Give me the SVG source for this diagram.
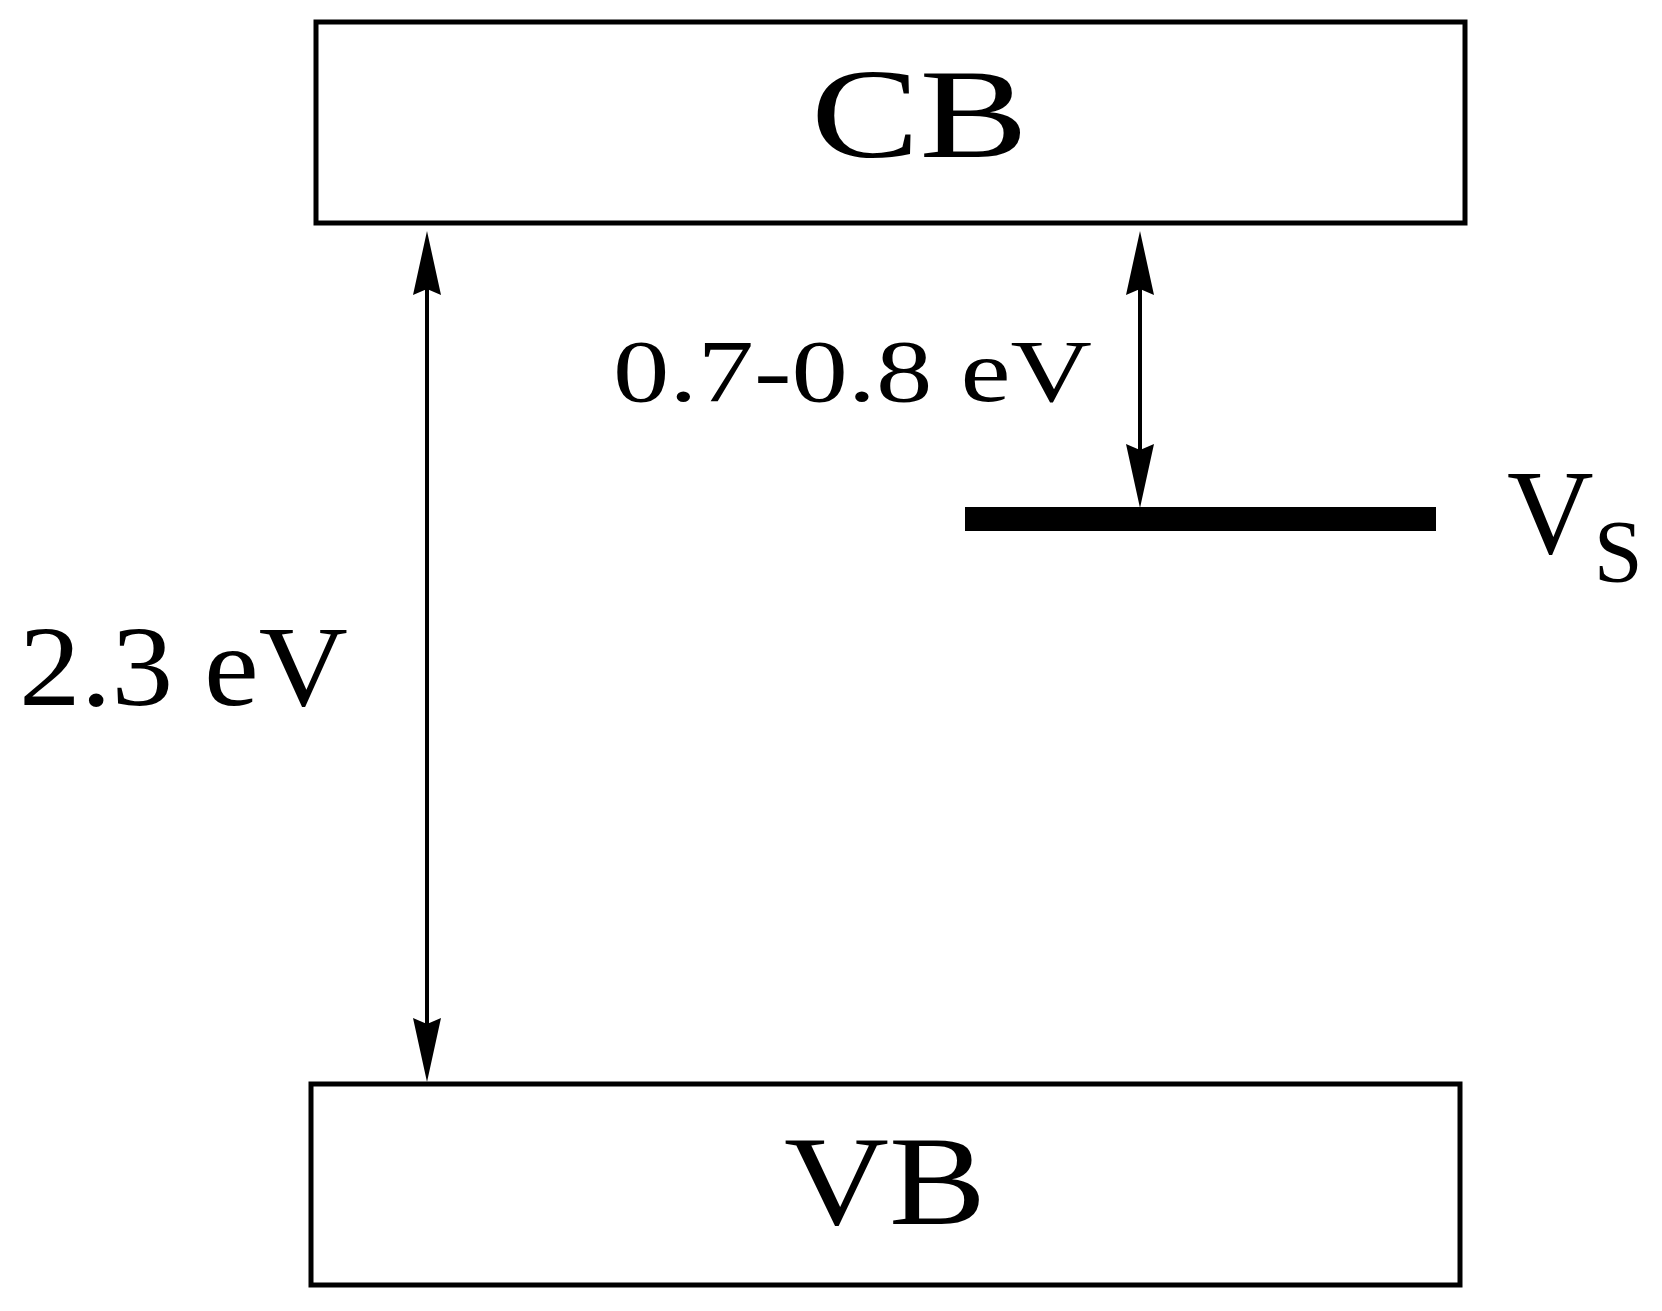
<svg xmlns="http://www.w3.org/2000/svg" width="1662" height="1311" viewBox="0 0 1662 1311">
<style>
.box{fill:#fff;stroke:#000;stroke-width:5}
.t{font-family:"Liberation Serif","Times New Roman",serif;fill:#000}
.ln{stroke:#000;stroke-width:4;fill:none}
.ah{fill:#000}
</style>
<defs>
<path id="up" d="M0,0 L14,64 L0,58 L-14,64 Z"/>
<path id="down" d="M0,0 L14,-64 L0,-58 L-14,-64 Z"/>
</defs>
<rect width="1662" height="1311" fill="#fff"/>
<g id="CB"><rect class="box" x="316" y="22" width="1149" height="201"/><text class="t" x="811" y="157" font-size="128" textLength="217" lengthAdjust="spacingAndGlyphs">CB</text></g>
<g id="VB"><rect class="box" x="311" y="1084" width="1149" height="201"/><text class="t" x="784" y="1224" font-size="128" textLength="202" lengthAdjust="spacingAndGlyphs">VB</text></g>
<g id="Vs"><rect x="965" y="507" width="471" height="24" fill="#000"/><text class="t" x="1507" y="553" font-size="120">V<tspan font-size="88" dy="28">S</tspan></text></g>
<g id="connectors">
<line class="ln" x1="427" y1="260" x2="427" y2="1055"/>
<use href="#up" class="ah" x="427" y="231"/>
<use href="#down" class="ah" x="427" y="1082"/>
<line class="ln" x1="1140" y1="260" x2="1140" y2="480"/>
<use href="#up" class="ah" x="1140" y="231"/>
<use href="#down" class="ah" x="1140" y="508"/>
</g>
<text class="t" x="613" y="401" font-size="88" textLength="479" lengthAdjust="spacingAndGlyphs">0.7-0.8 eV</text>
<text class="t" x="19" y="705" font-size="114" textLength="329" lengthAdjust="spacingAndGlyphs">2.3 eV</text>
</svg>
